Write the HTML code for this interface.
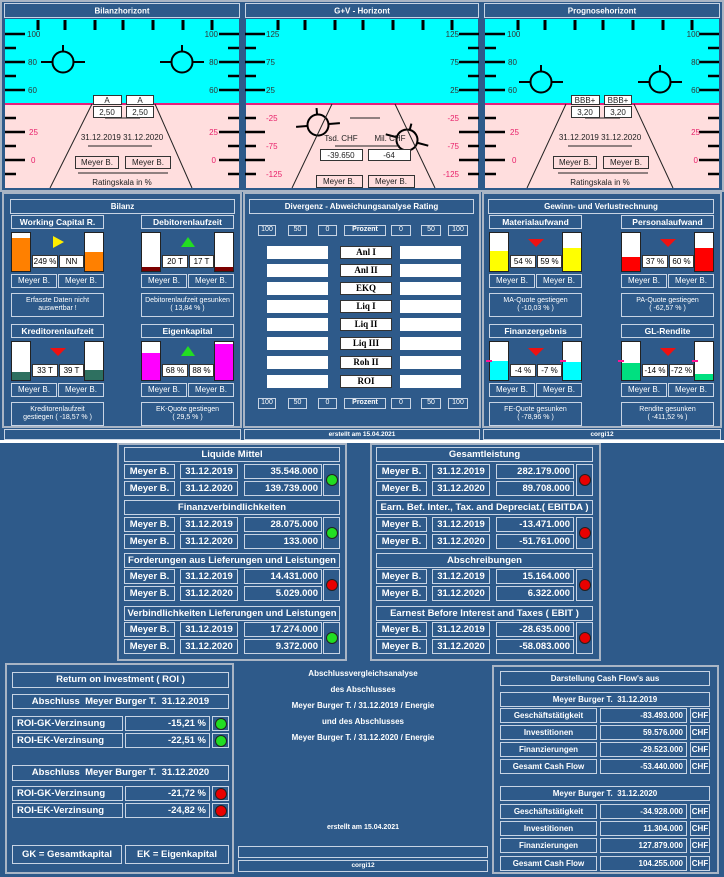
<!DOCTYPE html>
<html><head><meta charset="utf-8"><style>
body{margin:0;width:724px;height:877px;background:#2e5a8a;position:relative;overflow:hidden;font-family:"Liberation Sans",sans-serif}
.x{position:absolute;box-sizing:border-box;border:1px solid #c8d4e4;color:#fff;font-weight:bold;font-size:8px;display:flex;align-items:center;justify-content:center;white-space:nowrap;text-align:center;line-height:1.2}
.w{background:#fff;color:#000;border-color:#333;font-weight:normal}
.r{justify-content:flex-end;padding-right:3px}
.l{justify-content:flex-start;padding-left:4px}
.p{position:absolute;box-sizing:border-box;border:2px solid #a9b5c5}
.g{position:absolute;width:94px;height:102px}
.bar{position:absolute;box-sizing:border-box;border:1px solid #222;background:#fff;width:20px;height:40px;top:17px;overflow:hidden}
.bar i{position:absolute;left:0;right:0;bottom:0}
.t{position:absolute;width:0;height:0}
.up{border-left:7px solid transparent;border-right:7px solid transparent;border-bottom:10px solid #22dd22;left:40px;top:22px}
.dn{border-left:8px solid transparent;border-right:8px solid transparent;border-top:8px solid #ee1111;left:39px;top:24px}
.rt{border-top:6px solid transparent;border-bottom:6px solid transparent;border-left:11px solid #ffee00;left:42px;top:21px}
.L .x{font-size:9.5px}
.c{position:absolute;width:12px;height:12px;border-radius:50%;border:1px solid #222;box-sizing:border-box}
.gr{background:#22dd22}.rd{background:#e80000}
.mk{position:absolute;width:6px;height:2px;background:#ff1493}
</style></head><body>

<svg width="724" height="192" style="position:absolute;left:0;top:0" font-family="Liberation Sans, sans-serif">
<defs>
<g id="tk" stroke="#000">
<path stroke-width="3" d="M33 20v10M60 20v10M90 20v10M118 20v10M148 20v10M178 20v10M207 20v10"/>
<path stroke-width="2.5" d="M0 34h20M0 62h20M0 90h20M0 132h20M0 160h20M0 48h11M0 76h11M0 118h11M0 146h11M0 174h11"/>
<path stroke-width="2.5" d="M214 34h20M214 62h20M214 90h20M214 132h20M214 160h20M223 48h11M223 76h11M223 118h11M223 146h11M223 174h11"/>
</g>
<g id="ci" stroke="#000" stroke-width="2" fill="none"><circle r="10.5"/><path d="M-22 0h11M11 0h11M0 -11v-6"/></g>
</defs>
<rect width="724" height="192" fill="#2e5a8a"/>
<rect x="1" y="1" width="722" height="190" fill="none" stroke="#a9b5c5" stroke-width="2"/>
<g fill="#2e5a8a" stroke="#c8d4e4">
<rect x="4.5" y="3.5" width="235" height="14"/><rect x="245.5" y="3.5" width="233" height="14"/><rect x="484.5" y="3.5" width="235" height="14"/>
</g>
<g fill="#fff" font-size="8" font-weight="bold" text-anchor="middle">
<text x="122" y="13.5">Bilanzhorizont</text><text x="362" y="13.5">G+V - Horizont</text><text x="602" y="13.5">Prognosehorizont</text>
</g>
<g fill="#00ffff"><rect x="5" y="19" width="234" height="85"/><rect x="246" y="19" width="232" height="85"/><rect x="485" y="19" width="234" height="85"/></g>
<g fill="#ffdede"><rect x="5" y="105" width="234" height="83"/><rect x="246" y="105" width="232" height="83"/><rect x="485" y="105" width="234" height="83"/></g>
<g fill="#e8207a"><rect x="5" y="103" width="234" height="2"/><rect x="246" y="103" width="232" height="2"/><rect x="485" y="103" width="234" height="2"/></g>
<use href="#tk" x="5"/><use href="#tk" x="245"/><use href="#tk" x="485"/>
<g font-size="8" fill="#333">
<text x="27" y="37">100</text><text x="28" y="65">80</text><text x="28" y="93">60</text>
<text x="218" y="37" text-anchor="end">100</text><text x="218" y="65" text-anchor="end">80</text><text x="218" y="93" text-anchor="end">60</text>
<text x="266" y="37">125</text><text x="266" y="65">75</text><text x="266" y="93">25</text>
<text x="459" y="37" text-anchor="end">125</text><text x="459" y="65" text-anchor="end">75</text><text x="459" y="93" text-anchor="end">25</text>
<text x="507" y="37">100</text><text x="508" y="65">80</text><text x="508" y="93">60</text>
<text x="700" y="37" text-anchor="end">100</text><text x="700" y="65" text-anchor="end">80</text><text x="700" y="93" text-anchor="end">60</text>
</g>
<g font-size="8" fill="#e8206a">
<text x="29" y="135">25</text><text x="31" y="163">0</text>
<text x="218" y="135" text-anchor="end">25</text><text x="216" y="163" text-anchor="end">0</text>
<text x="266" y="121">-25</text><text x="266" y="149">-75</text><text x="266" y="177">-125</text>
<text x="459" y="121" text-anchor="end">-25</text><text x="459" y="149" text-anchor="end">-75</text><text x="459" y="177" text-anchor="end">-125</text>
<text x="510" y="135">25</text><text x="512" y="163">0</text>
<text x="700" y="135" text-anchor="end">25</text><text x="698" y="163" text-anchor="end">0</text>
</g>
<use href="#ci" x="63" y="62"/><use href="#ci" x="182" y="62"/>
<use href="#ci" x="541" y="82"/><use href="#ci" x="660" y="82"/>
<g transform="translate(318 125) rotate(-5)"><use href="#ci"/></g>
<g transform="translate(407 140) rotate(15)"><use href="#ci"/></g>
<g stroke="#222" stroke-width="1" fill="none">
<path d="M92 104L50 188M155 104L192 188M105 118h35M88 146h64M78 173h90"/>
<path d="M332 104L292 188M395 104L435 188M350 118h30M335 146h65"/>
<path d="M566 104L527 188M634 104L673 188M585 118h35M568 146h64M558 173h90"/>
</g>
<g fill="#fff" stroke="#333">
<rect x="93.5" y="95.5" width="28" height="9"/><rect x="126.5" y="95.5" width="27" height="9"/>
<rect x="93.5" y="106.5" width="28" height="11"/><rect x="126.5" y="106.5" width="27" height="11"/>
<rect x="571.5" y="95.5" width="28" height="9"/><rect x="604.5" y="95.5" width="27" height="9"/>
<rect x="571.5" y="106.5" width="28" height="11"/><rect x="604.5" y="106.5" width="27" height="11"/>
<rect x="320.5" y="149.5" width="42" height="11"/><rect x="368.5" y="149.5" width="42" height="11"/>
</g>
<g fill="none" stroke="#333">
<rect x="75.5" y="156.5" width="43" height="12"/><rect x="125.5" y="156.5" width="45" height="12"/>
<rect x="553.5" y="156.5" width="43" height="12"/><rect x="603.5" y="156.5" width="45" height="12"/>
<rect x="316.5" y="175.5" width="46" height="12"/><rect x="368.5" y="175.5" width="46" height="12"/>
</g>
<g font-size="8" fill="#222" text-anchor="middle">
<text x="107" y="103">A</text><text x="140" y="103">A</text>
<text x="107" y="115">2,50</text><text x="140" y="115">2,50</text>
<text x="585" y="103">BBB+</text><text x="618" y="103">BBB+</text>
<text x="585" y="115">3,20</text><text x="618" y="115">3,20</text>
<text x="122" y="140">31.12.2019  31.12.2020</text>
<text x="600" y="140">31.12.2019  31.12.2020</text>
<text x="97" y="165">Meyer B.</text><text x="148" y="165">Meyer B.</text>
<text x="575" y="165">Meyer B.</text><text x="626" y="165">Meyer B.</text>
<text x="122" y="185">Ratingskala in %</text><text x="600" y="185">Ratingskala in %</text>
<text x="341" y="141">Tsd. CHF</text><text x="390" y="141">Mil. CHF</text>
<text x="341" y="158">-39.650</text><text x="389" y="158">-64</text>
<text x="339" y="184">Meyer B.</text><text x="391" y="184">Meyer B.</text>
</g>
</svg>

<!-- middle section panels -->
<div class="p" style="left:2px;top:192px;width:240px;height:236px"></div>
<div class="p" style="left:243px;top:192px;width:238px;height:236px"></div>
<div class="p" style="left:482px;top:192px;width:240px;height:236px"></div>
<div class="x" style="left:10px;top:199px;width:225px;height:15px">Bilanz</div>
<div class="x" style="left:249px;top:199px;width:225px;height:15px">Divergenz - Abweichungsanalyse Rating</div>
<div class="x" style="left:488px;top:199px;width:226px;height:15px">Gewinn- und Verlustrechnung</div>

<!-- gauges -->
<div class="g" style="left:11px;top:215px">
<div class="x" style="left:0;top:0;width:93px;height:14px;font-size:8.5px">Working Capital R.</div>
<div class="bar" style="left:0"><i style="height:33px;background:#ff8000"></i></div>
<div class="t rt"></div>
<div class="x w" style="left:21px;top:40px;width:26px;height:13px">249 %</div>
<div class="x w" style="left:48px;top:40px;width:25px;height:13px">NN</div>
<div class="bar" style="left:73px"><i style="height:19px;background:#ff8000"></i></div>
<div class="x" style="left:0;top:59px;width:46px;height:14px;font-weight:normal">Meyer B.</div>
<div class="x" style="left:47px;top:59px;width:46px;height:14px;font-weight:normal">Meyer B.</div>
<div class="x" style="left:0;top:78px;width:93px;height:24px;font-weight:normal;font-size:7px">Erfasste Daten nicht<br>auswertbar !</div>
</div>
<div class="g" style="left:141px;top:215px">
<div class="x" style="left:0;top:0;width:93px;height:14px;font-size:8.5px">Debitorenlaufzeit</div>
<div class="bar" style="left:0"><i style="height:4px;background:#7b0000"></i></div>
<div class="t up"></div>
<div class="x w" style="left:21px;top:40px;width:26px;height:13px">20 T</div>
<div class="x w" style="left:48px;top:40px;width:25px;height:13px">17 T</div>
<div class="bar" style="left:73px"><i style="height:4px;background:#7b0000"></i></div>
<div class="x" style="left:0;top:59px;width:46px;height:14px;font-weight:normal">Meyer B.</div>
<div class="x" style="left:47px;top:59px;width:46px;height:14px;font-weight:normal">Meyer B.</div>
<div class="x" style="left:0;top:78px;width:93px;height:24px;font-weight:normal;font-size:7px">Debitorenlaufzeit gesunken<br>( 13,84 % )</div>
</div>
<div class="g" style="left:11px;top:324px">
<div class="x" style="left:0;top:0;width:93px;height:14px;font-size:8.5px">Kreditorenlaufzeit</div>
<div class="bar" style="left:0"><i style="height:8px;background:#2e7060"></i></div>
<div class="t dn"></div>
<div class="x w" style="left:21px;top:40px;width:26px;height:13px">33 T</div>
<div class="x w" style="left:48px;top:40px;width:25px;height:13px">39 T</div>
<div class="bar" style="left:73px"><i style="height:10px;background:#2e7060"></i></div>
<div class="x" style="left:0;top:59px;width:46px;height:14px;font-weight:normal">Meyer B.</div>
<div class="x" style="left:47px;top:59px;width:46px;height:14px;font-weight:normal">Meyer B.</div>
<div class="x" style="left:0;top:78px;width:93px;height:24px;font-weight:normal;font-size:7px">Kreditorenlaufzeit<br>gestiegen ( -18,57 % )</div>
</div>
<div class="g" style="left:141px;top:324px">
<div class="x" style="left:0;top:0;width:93px;height:14px;font-size:8.5px">Eigenkapital</div>
<div class="bar" style="left:0"><i style="height:27px;background:#ff00ff"></i></div>
<div class="t up"></div>
<div class="x w" style="left:21px;top:40px;width:26px;height:13px">68 %</div>
<div class="x w" style="left:48px;top:40px;width:25px;height:13px">88 %</div>
<div class="bar" style="left:73px"><i style="height:36px;background:#ff00ff"></i></div>
<div class="x" style="left:0;top:59px;width:46px;height:14px;font-weight:normal">Meyer B.</div>
<div class="x" style="left:47px;top:59px;width:46px;height:14px;font-weight:normal">Meyer B.</div>
<div class="x" style="left:0;top:78px;width:93px;height:24px;font-weight:normal;font-size:7px">EK-Quote gestiegen<br>( 29,5 % )</div>
</div>

<div class="g" style="left:489px;top:215px">
<div class="x" style="left:0;top:0;width:93px;height:14px;font-size:8.5px">Materialaufwand</div>
<div class="bar" style="left:0"><i style="height:20px;background:#ffff00"></i></div>
<div class="t dn"></div>
<div class="x w" style="left:21px;top:40px;width:26px;height:13px">54 %</div>
<div class="x w" style="left:48px;top:40px;width:25px;height:13px">59 %</div>
<div class="bar" style="left:73px"><i style="height:23px;background:#ffff00"></i></div>
<div class="x" style="left:0;top:59px;width:46px;height:14px;font-weight:normal">Meyer B.</div>
<div class="x" style="left:47px;top:59px;width:46px;height:14px;font-weight:normal">Meyer B.</div>
<div class="x" style="left:0;top:78px;width:93px;height:24px;font-weight:normal;font-size:7px">MA-Quote gestiegen<br>( -10,03 % )</div>
</div>
<div class="g" style="left:621px;top:215px">
<div class="x" style="left:0;top:0;width:93px;height:14px;font-size:8.5px">Personalaufwand</div>
<div class="bar" style="left:0"><i style="height:14px;background:#ff0000"></i></div>
<div class="t dn"></div>
<div class="x w" style="left:21px;top:40px;width:26px;height:13px">37 %</div>
<div class="x w" style="left:48px;top:40px;width:25px;height:13px">60 %</div>
<div class="bar" style="left:73px"><i style="height:23px;background:#ff0000"></i></div>
<div class="x" style="left:0;top:59px;width:46px;height:14px;font-weight:normal">Meyer B.</div>
<div class="x" style="left:47px;top:59px;width:46px;height:14px;font-weight:normal">Meyer B.</div>
<div class="x" style="left:0;top:78px;width:93px;height:24px;font-weight:normal;font-size:7px">PA-Quote gestiegen<br>( -62,57 % )</div>
</div>
<div class="g" style="left:489px;top:324px">
<div class="x" style="left:0;top:0;width:93px;height:14px;font-size:8.5px">Finanzergebnis</div>
<div class="bar" style="left:0"><i style="height:19px;background:#00ffff"></i></div>
<div class="mk" style="left:-3px;top:36px"></div>
<div class="t dn"></div>
<div class="x w" style="left:21px;top:40px;width:26px;height:13px">-4 %</div>
<div class="x w" style="left:48px;top:40px;width:25px;height:13px">-7 %</div>
<div class="bar" style="left:73px"><i style="height:18px;background:#00ffff"></i></div>
<div class="mk" style="left:71px;top:36px"></div>
<div class="x" style="left:0;top:59px;width:46px;height:14px;font-weight:normal">Meyer B.</div>
<div class="x" style="left:47px;top:59px;width:46px;height:14px;font-weight:normal">Meyer B.</div>
<div class="x" style="left:0;top:78px;width:93px;height:24px;font-weight:normal;font-size:7px">FE-Quote gesunken<br>( -78,96 % )</div>
</div>
<div class="g" style="left:621px;top:324px">
<div class="x" style="left:0;top:0;width:93px;height:14px;font-size:8.5px">GL-Rendite</div>
<div class="bar" style="left:0"><i style="height:17px;background:#00e080"></i></div>
<div class="mk" style="left:-3px;top:36px"></div>
<div class="t dn"></div>
<div class="x w" style="left:21px;top:40px;width:26px;height:13px">-14 %</div>
<div class="x w" style="left:48px;top:40px;width:25px;height:13px">-72 %</div>
<div class="bar" style="left:73px"><i style="height:6px;background:#00e080"></i></div>
<div class="mk" style="left:71px;top:36px"></div>
<div class="x" style="left:0;top:59px;width:46px;height:14px;font-weight:normal">Meyer B.</div>
<div class="x" style="left:47px;top:59px;width:46px;height:14px;font-weight:normal">Meyer B.</div>
<div class="x" style="left:0;top:78px;width:93px;height:24px;font-weight:normal;font-size:7px">Rendite gesunken<br>( -411,52 % )</div>
</div>

<!-- Divergenz -->
<div class="x" style="left:258px;top:225px;width:18px;height:11px;font-weight:normal;font-size:7px">100</div>
<div class="x" style="left:288px;top:225px;width:19px;height:11px;font-weight:normal;font-size:7px">50</div>
<div class="x" style="left:318px;top:225px;width:19px;height:11px;font-weight:normal;font-size:7px">0</div>
<div class="x" style="left:344px;top:225px;width:42px;height:11px;font-size:7px">Prozent</div>
<div class="x" style="left:391px;top:225px;width:20px;height:11px;font-weight:normal;font-size:7px">0</div>
<div class="x" style="left:421px;top:225px;width:20px;height:11px;font-weight:normal;font-size:7px">50</div>
<div class="x" style="left:448px;top:225px;width:20px;height:11px;font-weight:normal;font-size:7px">100</div>
<div class="x" style="left:258px;top:398px;width:18px;height:11px;font-weight:normal;font-size:7px">100</div>
<div class="x" style="left:288px;top:398px;width:19px;height:11px;font-weight:normal;font-size:7px">50</div>
<div class="x" style="left:318px;top:398px;width:19px;height:11px;font-weight:normal;font-size:7px">0</div>
<div class="x" style="left:344px;top:398px;width:42px;height:11px;font-size:7px">Prozent</div>
<div class="x" style="left:391px;top:398px;width:20px;height:11px;font-weight:normal;font-size:7px">0</div>
<div class="x" style="left:421px;top:398px;width:20px;height:11px;font-weight:normal;font-size:7px">50</div>
<div class="x" style="left:448px;top:398px;width:20px;height:11px;font-weight:normal;font-size:7px">100</div>

<div style="position:absolute;left:267px;top:246px;width:61px;height:13px;background:#fff"></div>
<div style="position:absolute;left:267px;top:264px;width:61px;height:13px;background:#fff"></div>
<div style="position:absolute;left:267px;top:282px;width:61px;height:13px;background:#fff"></div>
<div style="position:absolute;left:267px;top:300px;width:61px;height:13px;background:#fff"></div>
<div style="position:absolute;left:267px;top:318px;width:61px;height:13px;background:#fff"></div>
<div style="position:absolute;left:267px;top:337px;width:61px;height:13px;background:#fff"></div>
<div style="position:absolute;left:267px;top:356px;width:61px;height:13px;background:#fff"></div>
<div style="position:absolute;left:267px;top:375px;width:61px;height:13px;background:#fff"></div>
<div style="position:absolute;left:400px;top:246px;width:61px;height:13px;background:#fff"></div>
<div style="position:absolute;left:400px;top:264px;width:61px;height:13px;background:#fff"></div>
<div style="position:absolute;left:400px;top:282px;width:61px;height:13px;background:#fff"></div>
<div style="position:absolute;left:400px;top:300px;width:61px;height:13px;background:#fff"></div>
<div style="position:absolute;left:400px;top:318px;width:61px;height:13px;background:#fff"></div>
<div style="position:absolute;left:400px;top:337px;width:61px;height:13px;background:#fff"></div>
<div style="position:absolute;left:400px;top:356px;width:61px;height:13px;background:#fff"></div>
<div style="position:absolute;left:400px;top:375px;width:61px;height:13px;background:#fff"></div>
<div class="x w" style="left:340px;top:246px;width:52px;height:13px;font-weight:bold;font-family:'Liberation Serif',serif;font-size:9px">Anl I</div>
<div class="x w" style="left:340px;top:264px;width:52px;height:13px;font-weight:bold;font-family:'Liberation Serif',serif;font-size:9px">Anl II</div>
<div class="x w" style="left:340px;top:282px;width:52px;height:13px;font-weight:bold;font-family:'Liberation Serif',serif;font-size:9px">EKQ</div>
<div class="x w" style="left:340px;top:300px;width:52px;height:13px;font-weight:bold;font-family:'Liberation Serif',serif;font-size:9px">Liq I</div>
<div class="x w" style="left:340px;top:318px;width:52px;height:13px;font-weight:bold;font-family:'Liberation Serif',serif;font-size:9px">Liq II</div>
<div class="x w" style="left:340px;top:337px;width:52px;height:13px;font-weight:bold;font-family:'Liberation Serif',serif;font-size:9px">Liq III</div>
<div class="x w" style="left:340px;top:356px;width:52px;height:13px;font-weight:bold;font-family:'Liberation Serif',serif;font-size:9px">Roh II</div>
<div class="x w" style="left:340px;top:375px;width:52px;height:13px;font-weight:bold;font-family:'Liberation Serif',serif;font-size:9px">ROI</div>

<!-- footer row -->
<div class="x" style="left:4px;top:429px;width:237px;height:11px"></div>
<div class="x" style="left:244px;top:429px;width:236px;height:11px;font-size:6.5px">erstellt am 15.04.2021</div>
<div class="x" style="left:483px;top:429px;width:238px;height:11px;font-size:6.5px">corgi12</div>
<div style="position:absolute;left:0;top:440px;width:724px;height:3px;background:#fff"></div>

<!-- lower panels -->
<div class="L">
<div class="p" style="left:117px;top:443px;width:230px;height:218px"></div>
<div class="x" style="left:124px;top:447px;width:216px;height:15px">Liquide Mittel</div>
<div class="x" style="left:124px;top:464px;width:51px;height:15px">Meyer B.</div><div class="x" style="left:180px;top:464px;width:58px;height:15px">31.12.2019</div><div class="x r" style="left:244px;top:464px;width:78px;height:15px">35.548.000</div>
<div class="x" style="left:124px;top:481px;width:51px;height:15px">Meyer B.</div><div class="x" style="left:180px;top:481px;width:58px;height:15px">31.12.2020</div><div class="x r" style="left:244px;top:481px;width:78px;height:15px">139.739.000</div>
<div class="x" style="left:323px;top:464px;width:17px;height:32px"><span class="c gr" style="left:2px;top:9px"></span></div>
<div class="x" style="left:124px;top:500px;width:216px;height:15px">Finanzverbindlichkeiten</div>
<div class="x" style="left:124px;top:517px;width:51px;height:15px">Meyer B.</div><div class="x" style="left:180px;top:517px;width:58px;height:15px">31.12.2019</div><div class="x r" style="left:244px;top:517px;width:78px;height:15px">28.075.000</div>
<div class="x" style="left:124px;top:534px;width:51px;height:15px">Meyer B.</div><div class="x" style="left:180px;top:534px;width:58px;height:15px">31.12.2020</div><div class="x r" style="left:244px;top:534px;width:78px;height:15px">133.000</div>
<div class="x" style="left:323px;top:517px;width:17px;height:32px"><span class="c gr" style="left:2px;top:9px"></span></div>
<div class="x" style="left:124px;top:553px;width:216px;height:15px">Forderungen aus Lieferungen und Leistungen</div>
<div class="x" style="left:124px;top:569px;width:51px;height:15px">Meyer B.</div><div class="x" style="left:180px;top:569px;width:58px;height:15px">31.12.2019</div><div class="x r" style="left:244px;top:569px;width:78px;height:15px">14.431.000</div>
<div class="x" style="left:124px;top:586px;width:51px;height:15px">Meyer B.</div><div class="x" style="left:180px;top:586px;width:58px;height:15px">31.12.2020</div><div class="x r" style="left:244px;top:586px;width:78px;height:15px">5.029.000</div>
<div class="x" style="left:323px;top:569px;width:17px;height:32px"><span class="c rd" style="left:2px;top:9px"></span></div>
<div class="x" style="left:124px;top:606px;width:216px;height:15px">Verbindlichkeiten Lieferungen und Leistungen</div>
<div class="x" style="left:124px;top:622px;width:51px;height:15px">Meyer B.</div><div class="x" style="left:180px;top:622px;width:58px;height:15px">31.12.2019</div><div class="x r" style="left:244px;top:622px;width:78px;height:15px">17.274.000</div>
<div class="x" style="left:124px;top:639px;width:51px;height:15px">Meyer B.</div><div class="x" style="left:180px;top:639px;width:58px;height:15px">31.12.2020</div><div class="x r" style="left:244px;top:639px;width:78px;height:15px">9.372.000</div>
<div class="x" style="left:323px;top:622px;width:17px;height:32px"><span class="c gr" style="left:2px;top:9px"></span></div>

<div class="p" style="left:370px;top:443px;width:231px;height:218px"></div>
<div class="x" style="left:376px;top:447px;width:217px;height:15px">Gesamtleistung</div>
<div class="x" style="left:376px;top:464px;width:51px;height:15px">Meyer B.</div><div class="x" style="left:432px;top:464px;width:58px;height:15px">31.12.2019</div><div class="x r" style="left:496px;top:464px;width:78px;height:15px">282.179.000</div>
<div class="x" style="left:376px;top:481px;width:51px;height:15px">Meyer B.</div><div class="x" style="left:432px;top:481px;width:58px;height:15px">31.12.2020</div><div class="x r" style="left:496px;top:481px;width:78px;height:15px">89.708.000</div>
<div class="x" style="left:576px;top:464px;width:17px;height:32px"><span class="c rd" style="left:2px;top:9px"></span></div>
<div class="x" style="left:376px;top:500px;width:217px;height:15px">Earn. Bef. Inter., Tax. and Depreciat.( EBITDA )</div>
<div class="x" style="left:376px;top:517px;width:51px;height:15px">Meyer B.</div><div class="x" style="left:432px;top:517px;width:58px;height:15px">31.12.2019</div><div class="x r" style="left:496px;top:517px;width:78px;height:15px">-13.471.000</div>
<div class="x" style="left:376px;top:534px;width:51px;height:15px">Meyer B.</div><div class="x" style="left:432px;top:534px;width:58px;height:15px">31.12.2020</div><div class="x r" style="left:496px;top:534px;width:78px;height:15px">-51.761.000</div>
<div class="x" style="left:576px;top:517px;width:17px;height:32px"><span class="c rd" style="left:2px;top:9px"></span></div>
<div class="x" style="left:376px;top:553px;width:217px;height:15px">Abschreibungen</div>
<div class="x" style="left:376px;top:569px;width:51px;height:15px">Meyer B.</div><div class="x" style="left:432px;top:569px;width:58px;height:15px">31.12.2019</div><div class="x r" style="left:496px;top:569px;width:78px;height:15px">15.164.000</div>
<div class="x" style="left:376px;top:586px;width:51px;height:15px">Meyer B.</div><div class="x" style="left:432px;top:586px;width:58px;height:15px">31.12.2020</div><div class="x r" style="left:496px;top:586px;width:78px;height:15px">6.322.000</div>
<div class="x" style="left:576px;top:569px;width:17px;height:32px"><span class="c rd" style="left:2px;top:9px"></span></div>
<div class="x" style="left:376px;top:606px;width:217px;height:15px">Earnest Before Interest and Taxes ( EBIT )</div>
<div class="x" style="left:376px;top:622px;width:51px;height:15px">Meyer B.</div><div class="x" style="left:432px;top:622px;width:58px;height:15px">31.12.2019</div><div class="x r" style="left:496px;top:622px;width:78px;height:15px">-28.635.000</div>
<div class="x" style="left:376px;top:639px;width:51px;height:15px">Meyer B.</div><div class="x" style="left:432px;top:639px;width:58px;height:15px">31.12.2020</div><div class="x r" style="left:496px;top:639px;width:78px;height:15px">-58.083.000</div>
<div class="x" style="left:576px;top:622px;width:17px;height:32px"><span class="c rd" style="left:2px;top:9px"></span></div>

<!-- ROI -->
<div class="p" style="left:5px;top:663px;width:229px;height:211px"></div>
<div class="x" style="left:12px;top:672px;width:217px;height:16px">Return on Investment ( ROI )</div>
<div class="x" style="left:12px;top:694px;width:217px;height:15px">Abschluss&nbsp; Meyer Burger T.&nbsp; 31.12.2019</div>
<div class="x l" style="left:12px;top:716px;width:111px;height:15px">ROI-GK-Verzinsung</div><div class="x r" style="left:125px;top:716px;width:85px;height:15px">-15,21 %</div>
<div class="x l" style="left:12px;top:733px;width:111px;height:15px">ROI-EK-Verzinsung</div><div class="x r" style="left:125px;top:733px;width:85px;height:15px">-22,51 %</div>
<div class="x" style="left:212px;top:716px;width:17px;height:15px"><span class="c gr" style="left:2px;top:1px"></span></div>
<div class="x" style="left:212px;top:733px;width:17px;height:15px"><span class="c gr" style="left:2px;top:1px"></span></div>
<div class="x" style="left:12px;top:765px;width:217px;height:16px">Abschluss&nbsp; Meyer Burger T.&nbsp; 31.12.2020</div>
<div class="x l" style="left:12px;top:786px;width:111px;height:15px">ROI-GK-Verzinsung</div><div class="x r" style="left:125px;top:786px;width:85px;height:15px">-21,72 %</div>
<div class="x l" style="left:12px;top:803px;width:111px;height:15px">ROI-EK-Verzinsung</div><div class="x r" style="left:125px;top:803px;width:85px;height:15px">-24,82 %</div>
<div class="x" style="left:212px;top:786px;width:17px;height:15px"><span class="c rd" style="left:2px;top:1px"></span></div>
<div class="x" style="left:212px;top:803px;width:17px;height:15px"><span class="c rd" style="left:2px;top:1px"></span></div>
<div class="x" style="left:12px;top:845px;width:110px;height:19px">GK = Gesamtkapital</div>
<div class="x" style="left:125px;top:845px;width:104px;height:19px">EK = Eigenkapital</div>
</div>

<!-- middle text -->
<div style="position:absolute;left:238px;top:666px;width:250px;text-align:center;color:#fff;font-weight:bold;font-size:8px;line-height:16px">Abschlussvergleichsanalyse<br>des Abschlusses<br>Meyer Burger T. / 31.12.2019 / Energie<br>und des Abschlusses<br>Meyer Burger T. / 31.12.2020 / Energie</div>
<div style="position:absolute;left:238px;top:824px;width:250px;text-align:center;color:#fff;font-weight:bold;font-size:7px">erstellt am 15.04.2021</div>
<div class="x" style="left:238px;top:846px;width:250px;height:12px"></div>
<div class="x" style="left:238px;top:860px;width:250px;height:12px;font-size:6.5px">corgi12</div>

<!-- Cash flow -->
<div class="p" style="left:492px;top:665px;width:227px;height:209px"></div>
<div class="x" style="left:500px;top:671px;width:210px;height:15px">Darstellung Cash Flow's aus</div>
<div class="x" style="left:500px;top:692px;width:210px;height:15px">Meyer Burger T.&nbsp; 31.12.2019</div>
<div class="x" style="left:500px;top:708px;width:97px;height:15px">Geschäftstätigkeit</div><div class="x r" style="left:600px;top:708px;width:87px;height:15px">-83.493.000</div><div class="x" style="left:690px;top:708px;width:20px;height:15px">CHF</div>
<div class="x" style="left:500px;top:725px;width:97px;height:15px">Investitionen</div><div class="x r" style="left:600px;top:725px;width:87px;height:15px">59.576.000</div><div class="x" style="left:690px;top:725px;width:20px;height:15px">CHF</div>
<div class="x" style="left:500px;top:742px;width:97px;height:15px">Finanzierungen</div><div class="x r" style="left:600px;top:742px;width:87px;height:15px">-29.523.000</div><div class="x" style="left:690px;top:742px;width:20px;height:15px">CHF</div>
<div class="x" style="left:500px;top:759px;width:97px;height:15px">Gesamt Cash Flow</div><div class="x r" style="left:600px;top:759px;width:87px;height:15px">-53.440.000</div><div class="x" style="left:690px;top:759px;width:20px;height:15px">CHF</div>
<div class="x" style="left:500px;top:786px;width:210px;height:15px">Meyer Burger T.&nbsp; 31.12.2020</div>
<div class="x" style="left:500px;top:804px;width:97px;height:15px">Geschäftstätigkeit</div><div class="x r" style="left:600px;top:804px;width:87px;height:15px">-34.928.000</div><div class="x" style="left:690px;top:804px;width:20px;height:15px">CHF</div>
<div class="x" style="left:500px;top:821px;width:97px;height:15px">Investitionen</div><div class="x r" style="left:600px;top:821px;width:87px;height:15px">11.304.000</div><div class="x" style="left:690px;top:821px;width:20px;height:15px">CHF</div>
<div class="x" style="left:500px;top:838px;width:97px;height:15px">Finanzierungen</div><div class="x r" style="left:600px;top:838px;width:87px;height:15px">127.879.000</div><div class="x" style="left:690px;top:838px;width:20px;height:15px">CHF</div>
<div class="x" style="left:500px;top:856px;width:97px;height:15px">Gesamt Cash Flow</div><div class="x r" style="left:600px;top:856px;width:87px;height:15px">104.255.000</div><div class="x" style="left:690px;top:856px;width:20px;height:15px">CHF</div>

</body></html>
